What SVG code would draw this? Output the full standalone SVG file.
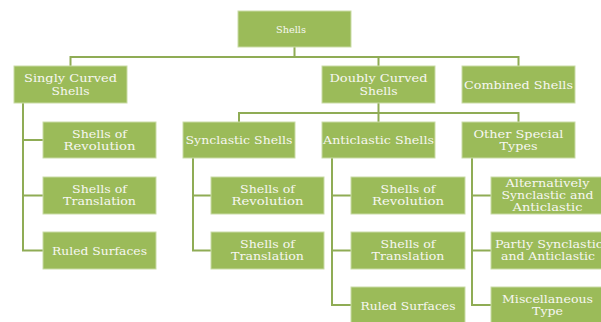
<svg xmlns="http://www.w3.org/2000/svg" width="601" height="322" viewBox="0 0 601 322">
<style>
.box{fill:#9bbb59;stroke:#c9dba6;stroke-width:1}
.t{font-family:"DejaVu Serif","Liberation Serif",serif;font-size:11px;fill:#f7f7f2;text-anchor:middle}
.s{font-size:10px}
.m{font-size:10.5px}
.c{fill:none;stroke:#8fac55;stroke-width:2}
</style>
<rect width="601" height="322" fill="#ffffff"/>
<g id="connectors">
<path class="c" d="M294.5,47V57M70.5,66V57H518.5V66M378.5,57V66"/>
<path class="c" d="M378.5,103V113M239,122V113H518.5V122M378.5,113V122"/>
<path class="c" d="M23,103V250.5H43M23,140H43M23,195.5H43"/>
<path class="c" d="M193,158V250.5H211M193,195.5H211"/>
<path class="c" d="M332,158V305H351M332,195.5H351M332,250.5H351"/>
<path class="c" d="M472,158V305H491M472,195.5H491M472,250.5H491"/>
</g>
<g id="n-shells"><rect class="box" x="238" y="11" width="113" height="36"/><text class="t s" x="291" y="32.5" textLength="30" lengthAdjust="spacingAndGlyphs">Shells</text></g>
<g id="n-singly"><rect class="box" x="14" y="66" width="113" height="37"/><text class="t" x="70.5" y="82" textLength="93" lengthAdjust="spacingAndGlyphs">Singly Curved</text><text class="t" x="70.5" y="94.5" textLength="38" lengthAdjust="spacingAndGlyphs">Shells</text></g>
<g id="n-doubly"><rect class="box" x="322" y="66" width="113" height="37"/><text class="t" x="378.5" y="82" textLength="98" lengthAdjust="spacingAndGlyphs">Doubly Curved</text><text class="t" x="378.5" y="94.5" textLength="38" lengthAdjust="spacingAndGlyphs">Shells</text></g>
<g id="n-combined"><rect class="box" x="462" y="66" width="113" height="37"/><text class="t" x="518.5" y="88.5" textLength="109" lengthAdjust="spacingAndGlyphs">Combined Shells</text></g>
<g id="n-s-rev"><rect class="box" x="43" y="122" width="113" height="36"/><text class="t" x="99.5" y="137.5" textLength="55" lengthAdjust="spacingAndGlyphs">Shells of</text><text class="t" x="99.5" y="150" textLength="72" lengthAdjust="spacingAndGlyphs">Revolution</text></g>
<g id="n-s-tra"><rect class="box" x="43" y="177" width="113" height="37"/><text class="t" x="99.5" y="192.5" textLength="55" lengthAdjust="spacingAndGlyphs">Shells of</text><text class="t" x="99.5" y="205" textLength="73" lengthAdjust="spacingAndGlyphs">Translation</text></g>
<g id="n-s-rul"><rect class="box" x="43" y="232" width="113" height="37"/><text class="t" x="99.5" y="254.5" textLength="95" lengthAdjust="spacingAndGlyphs">Ruled Surfaces</text></g>
<g id="n-syn"><rect class="box" x="183" y="122" width="112" height="36"/><text class="t" x="239" y="144" textLength="107" lengthAdjust="spacingAndGlyphs">Synclastic Shells</text></g>
<g id="n-anti"><rect class="box" x="322" y="122" width="113" height="36"/><text class="t" x="378.5" y="144" textLength="111" lengthAdjust="spacingAndGlyphs">Anticlastic Shells</text></g>
<g id="n-other"><rect class="box" x="462" y="122" width="113" height="36"/><text class="t" x="518.5" y="137.5" textLength="90" lengthAdjust="spacingAndGlyphs">Other  Special</text><text class="t" x="518.5" y="150" textLength="38" lengthAdjust="spacingAndGlyphs">Types</text></g>
<g id="n-syn-rev"><rect class="box" x="211" y="177" width="113" height="37"/><text class="t" x="267.5" y="192.5" textLength="55" lengthAdjust="spacingAndGlyphs">Shells of</text><text class="t" x="267.5" y="205" textLength="72" lengthAdjust="spacingAndGlyphs">Revolution</text></g>
<g id="n-syn-tra"><rect class="box" x="211" y="232" width="113" height="37"/><text class="t" x="267.5" y="247.5" textLength="55" lengthAdjust="spacingAndGlyphs">Shells of</text><text class="t" x="267.5" y="260" textLength="73" lengthAdjust="spacingAndGlyphs">Translation</text></g>
<g id="n-anti-rev"><rect class="box" x="351" y="177" width="114" height="37"/><text class="t" x="408" y="192.5" textLength="55" lengthAdjust="spacingAndGlyphs">Shells of</text><text class="t" x="408" y="205" textLength="72" lengthAdjust="spacingAndGlyphs">Revolution</text></g>
<g id="n-anti-tra"><rect class="box" x="351" y="232" width="114" height="37"/><text class="t" x="408" y="247.5" textLength="55" lengthAdjust="spacingAndGlyphs">Shells of</text><text class="t" x="408" y="260" textLength="73" lengthAdjust="spacingAndGlyphs">Translation</text></g>
<g id="n-anti-rul"><rect class="box" x="351" y="287" width="114" height="37"/><text class="t" x="408" y="309.5" textLength="95" lengthAdjust="spacingAndGlyphs">Ruled Surfaces</text></g>
<g id="n-alt"><rect class="box" x="491" y="177" width="113" height="37"/><text class="t m" x="547.5" y="186.5" textLength="84" lengthAdjust="spacingAndGlyphs">Alternatively</text><text class="t m" x="547.5" y="198.5" textLength="92" lengthAdjust="spacingAndGlyphs">Synclastic and</text><text class="t m" x="547.5" y="210.5" textLength="70" lengthAdjust="spacingAndGlyphs">Anticlastic</text></g>
<g id="n-partly"><rect class="box" x="491" y="232" width="113" height="37"/><text class="t" x="549" y="247.5" textLength="108" lengthAdjust="spacingAndGlyphs">Partly Synclastic</text><text class="t" x="548" y="260" textLength="94" lengthAdjust="spacingAndGlyphs">and Anticlastic</text></g>
<g id="n-misc"><rect class="box" x="491" y="287" width="113" height="37"/><text class="t" x="547.5" y="302.5" textLength="91" lengthAdjust="spacingAndGlyphs">Miscellaneous</text><text class="t" x="547.5" y="315" textLength="31" lengthAdjust="spacingAndGlyphs">Type</text></g>
</svg>
